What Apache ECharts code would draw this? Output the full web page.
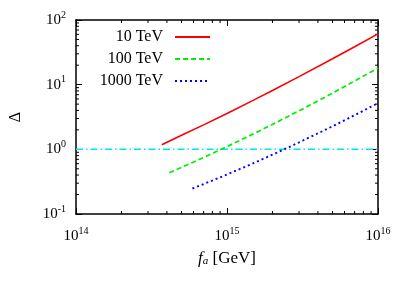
<!DOCTYPE html>
<html><head><meta charset="utf-8">
<script src="https://cdn.jsdelivr.net/npm/echarts@6/dist/echarts.min.js"></script>
<style>html,body{margin:0;padding:0;background:#fff}#c{width:409px;height:286px}</style>
</head><body><div id="c"></div>
<script>
var fa = [3.7e14, 5e14, 7e14, 1e15, 1.5e15, 2e15, 3e15, 5e15, 7e15, 1e16];
var delta10 = [1.18, 1.65, 2.39, 3.59, 5.77, 8.13, 13.3, 25.1, 38.5, 61.1];
var faG = [4.15e14, 5e14, 7e14, 1e15, 1.5e15, 2e15, 3e15, 5e15, 7e15, 1e16];
var delta100 = [0.434, 0.526, 0.749, 1.104, 1.74, 2.43, 3.94, 7.40, 11.4, 18.1];
var faB = [5.9e14, 7e14, 1e15, 1.5e15, 2e15, 3e15, 5e15, 7e15, 1e16];
var delta1000 = [0.248, 0.290, 0.408, 0.612, 0.826, 1.28, 2.27, 3.37, 5.18];
var refX = [1e14, 1e16];
var refY = [1, 1];
var names = ['10 TeV', '100 TeV', '1000 TeV'];
var minorX = [2e14,3e14,4e14,5e14,6e14,7e14,8e14,9e14,2e15,3e15,4e15,5e15,6e15,7e15,8e15,9e15];
var minorY = [0.2,0.3,0.4,0.5,0.6,0.7,0.8,0.9,2,3,4,5,6,7,8,9,20,30,40,50,60,70,80,90];
var xMin = 1e14, xMax = 1e16, yMin = 0.1, yMax = 100;

function zip(a, b){ return a.map(function(v,i){ return [v, b[i]]; }); }
var FONT = 'Liberation Serif';
function supFmt(v){ var e = Math.round(Math.log10(v)); return '10{s|' + e + '}'; }
var rich = { s: { fontSize: 10, fontFamily: FONT, color: '#000', padding: [0,0,10,0] } };

var chart = echarts.init(document.getElementById('c'));
var tickStyle = { stroke: '#000', lineWidth: 1 };
chart.setOption({
  animation: false,
  grid: { left: 73, right: 31, top: 20, bottom: 72 },
  legend: {
    data: names, orient: 'vertical', align: 'right', right: 193, top: 24,
    itemWidth: 35, itemHeight: 14, itemGap: 6,
    itemStyle: { opacity: 0 },
    textStyle: { fontFamily: FONT, fontSize: 16, color: '#000', padding: [0, 7, 0, 0] }
  },
  xAxis: [{
    type: 'log', logBase: 10, min: xMin, max: xMax,
    name: '{i|f}{sub|a} [GeV]', nameLocation: 'middle', nameGap: 36,
    nameTextStyle: { fontFamily: FONT, fontSize: 17, color: '#000',
      rich: { i: { fontFamily: FONT, fontStyle: 'italic', fontSize: 17, color: '#000' },
              sub: { fontFamily: FONT, fontStyle: 'italic', fontSize: 11, color: '#000', padding: [6,0,0,0] } } },
    axisLine: { lineStyle: { color: '#000', width: 1.5 } },
    axisTick: { inside: true, length: 6, lineStyle: { color: '#000' } },
    axisLabel: { formatter: supFmt, fontFamily: FONT, fontSize: 15, color: '#000', margin: 12, rich: rich },
    splitLine: { show: false }
  }, {
    type: 'log', logBase: 10, min: xMin, max: xMax, position: 'top',
    axisLine: { lineStyle: { color: '#000', width: 1.5 } },
    axisTick: { inside: true, length: 6, lineStyle: { color: '#000' } },
    axisLabel: { show: false }, splitLine: { show: false }
  }],
  yAxis: [{
    type: 'log', logBase: 10, min: yMin, max: yMax,
    name: 'Δ', nameLocation: 'middle', nameGap: 52,
    nameTextStyle: { fontFamily: FONT, fontSize: 16, color: '#000' },
    axisLine: { lineStyle: { color: '#000', width: 1.5 } },
    axisTick: { inside: true, length: 6, lineStyle: { color: '#000' } },
    axisLabel: { formatter: supFmt, fontFamily: FONT, fontSize: 15, color: '#000', margin: 10, rich: rich },
    splitLine: { show: false }
  }, {
    type: 'log', logBase: 10, min: yMin, max: yMax, position: 'right',
    axisLine: { lineStyle: { color: '#000', width: 1.5 } },
    axisTick: { inside: true, length: 6, lineStyle: { color: '#000' } },
    axisLabel: { show: false }, splitLine: { show: false }
  }],
  series: [
    { type: 'line', name: 'ref', data: zip(refX, refY), symbol: 'none', silent: true,
      lineStyle: { color: '#00e8e8', width: 1.5, type: [7,3,1.5,3] } },
    { type: 'line', name: names[0], data: zip(fa, delta10), symbol: 'none',
      itemStyle: { color: '#ff0000' }, lineStyle: { color: '#ff0000', width: 1.6, type: 'solid' } },
    { type: 'line', name: names[1], data: zip(faG, delta100), symbol: 'none',
      itemStyle: { color: '#00ee00' }, lineStyle: { color: '#00ee00', width: 1.7, type: [5,3] } },
    { type: 'line', name: names[2], data: zip(faB, delta1000), symbol: 'none',
      itemStyle: { color: '#0000ff' }, lineStyle: { color: '#0000ff', width: 1.9, type: [2,3] } },
    { type: 'custom', name: 'mx', silent: true, data: minorX.map(function(v){ return [v, 1]; }),
      renderItem: function(p, api){
        var v = api.value(0); var b = api.coord([v, yMin]); var t = api.coord([v, yMax]);
        return { type: 'group', children: [
          { type: 'line', shape: { x1: b[0], y1: b[1], x2: b[0], y2: b[1] - 3 }, style: tickStyle },
          { type: 'line', shape: { x1: t[0], y1: t[1], x2: t[0], y2: t[1] + 3 }, style: tickStyle } ] };
      } },
    { type: 'custom', name: 'my', silent: true, data: minorY.map(function(v){ return [1e15, v]; }),
      renderItem: function(p, api){
        var v = api.value(1); var l = api.coord([xMin, v]); var r = api.coord([xMax, v]);
        return { type: 'group', children: [
          { type: 'line', shape: { x1: l[0], y1: l[1], x2: l[0] + 3, y2: l[1] }, style: tickStyle },
          { type: 'line', shape: { x1: r[0], y1: r[1], x2: r[0] - 3, y2: r[1] }, style: tickStyle } ] };
      } }
  ]
});
</script></body></html>
